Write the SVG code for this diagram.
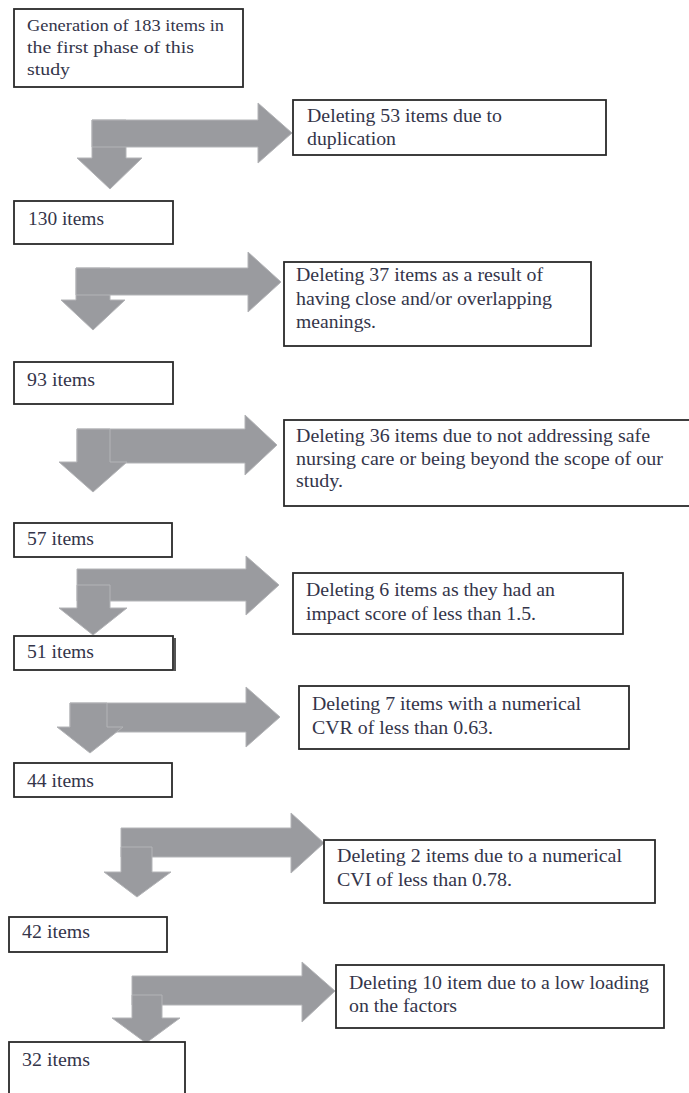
<svg xmlns="http://www.w3.org/2000/svg" width="689" height="1093" viewBox="0 0 689 1093">
<style>
.box{fill:#fff;stroke:#2a2a2a;stroke-width:1.8}
.arr{fill:#9a9b9f;stroke:#b3b4b7;stroke-width:1}
text{font-family:"Liberation Serif","Times New Roman",serif;font-size:18px;fill:#34354a}
.s{font-size:16.5px}
</style>
<rect width="689" height="1093" fill="#fff"/>
<g id="connectors">
<g id="a1"><polygon class="arr" points="92,120 126,120 126,158 142,158 110,189 77,158 92,158"/><polygon class="arr" points="92,120 258,120 258,103 292,133 258,163 258,147 92,147"/></g>
<g id="a2"><polygon class="arr" points="76,268 110,268 110,300 125,300 93,330 61,300 76,300"/><polygon class="arr" points="76,268 248,268 248,252 281,282 248,312 248,295 76,295"/></g>
<g id="a3"><polygon class="arr" points="77,429 245,429 245,415 277,445 245,475 245,463 77,463"/><polygon class="arr" points="77,429 110,429 110,462 127,462 93,492 59,462 77,462"/></g>
<g id="a4"><polygon class="arr" points="77,569 246,569 246,556 279,585 246,615 246,601 77,601"/><polygon class="arr" points="77,585 110,585 110,608 127,608 93,635 59,608 77,608"/></g>
<g id="a5"><polygon class="arr" points="70,703 246,703 246,687 280,717 246,747 246,732 70,732"/><polygon class="arr" points="70,703 107,703 107,727 123,727 90,753 57,727 70,727"/></g>
<g id="a6"><polygon class="arr" points="121,828 291,828 291,813 324,843 291,873 291,857 121,857"/><polygon class="arr" points="121,847 152,847 152,872 171,872 137,897 104,872 121,872"/></g>
<g id="a7"><polygon class="arr" points="132,976 302,976 302,962 335,991 302,1022 302,1005 132,1005"/><polygon class="arr" points="132,995 162,995 162,1018 180,1018 146,1043 112,1018 132,1018"/></g>
</g>
<g id="n183"><rect class="box" x="14" y="9" width="229" height="78"/><text class="s" x="27" y="31" textLength="197" lengthAdjust="spacingAndGlyphs">Generation of 183 items in</text><text class="s" x="27" y="53" textLength="167" lengthAdjust="spacingAndGlyphs">the first phase of this</text><text class="s" x="27" y="75" textLength="43" lengthAdjust="spacingAndGlyphs">study</text></g>
<g id="d53"><rect class="box" x="293" y="100" width="313" height="55"/><text x="307" y="122" textLength="195" lengthAdjust="spacingAndGlyphs">Deleting 53 items due to</text><text x="307" y="145" textLength="89" lengthAdjust="spacingAndGlyphs">duplication</text></g>
<g id="n130"><rect class="box" x="14" y="201" width="159" height="43"/><text x="28" y="225" textLength="76" lengthAdjust="spacingAndGlyphs">130 items</text></g>
<g id="d37"><rect class="box" x="284" y="262" width="307" height="84"/><text x="296" y="281" textLength="247" lengthAdjust="spacingAndGlyphs">Deleting 37 items as a result of</text><text x="296" y="305" textLength="256" lengthAdjust="spacingAndGlyphs">having close and/or overlapping</text><text x="296" y="328" textLength="80" lengthAdjust="spacingAndGlyphs">meanings.</text></g>
<g id="n93"><rect class="box" x="14" y="362" width="159" height="42"/><text x="27" y="386" textLength="68" lengthAdjust="spacingAndGlyphs">93 items</text></g>
<g id="d36"><rect class="box" x="284" y="420" width="420" height="86"/><text x="296" y="442" textLength="354" lengthAdjust="spacingAndGlyphs">Deleting 36 items due to not addressing safe</text><text x="296" y="465" textLength="367" lengthAdjust="spacingAndGlyphs">nursing care or being beyond the scope of our</text><text x="296" y="487" textLength="47" lengthAdjust="spacingAndGlyphs">study.</text></g>
<g id="n57"><rect class="box" x="14" y="523" width="158" height="34"/><text x="27" y="545" textLength="67" lengthAdjust="spacingAndGlyphs">57 items</text></g>
<g id="d6"><rect class="box" x="293" y="573" width="330" height="61"/><text x="306" y="596" textLength="249" lengthAdjust="spacingAndGlyphs">Deleting 6 items as they had an</text><text x="306" y="620" textLength="230" lengthAdjust="spacingAndGlyphs">impact score of less than 1.5.</text></g>
<g id="n51"><rect class="box" x="14" y="636" width="159" height="34"/><line x1="175" y1="638" x2="175" y2="671" stroke="#555" stroke-width="2"/><text x="27" y="658" textLength="67" lengthAdjust="spacingAndGlyphs">51 items</text></g>
<g id="d7"><rect class="box" x="299" y="686" width="330" height="63"/><text x="312" y="710" textLength="269" lengthAdjust="spacingAndGlyphs">Deleting 7 items with a numerical</text><text x="312" y="734" textLength="181" lengthAdjust="spacingAndGlyphs">CVR of less than 0.63.</text></g>
<g id="n44"><rect class="box" x="14" y="763" width="158" height="34"/><text x="27" y="787" textLength="67" lengthAdjust="spacingAndGlyphs">44 items</text></g>
<g id="d2"><rect class="box" x="324" y="840" width="331" height="63"/><text x="337" y="862" textLength="285" lengthAdjust="spacingAndGlyphs">Deleting 2 items due to a numerical</text><text x="337" y="886" textLength="175" lengthAdjust="spacingAndGlyphs">CVI of less than 0.78.</text></g>
<g id="n42"><rect class="box" x="9" y="917" width="158" height="35"/><text x="22" y="938" textLength="68" lengthAdjust="spacingAndGlyphs">42 items</text></g>
<g id="d10"><rect class="box" x="336" y="965" width="328" height="63"/><text x="349" y="989" textLength="300" lengthAdjust="spacingAndGlyphs">Deleting 10 item due to a low loading</text><text x="349" y="1012" textLength="108" lengthAdjust="spacingAndGlyphs">on the factors</text></g>
<g id="n32"><rect class="box" x="9" y="1042" width="176" height="60"/><text x="22" y="1066" textLength="68" lengthAdjust="spacingAndGlyphs">32 items</text></g>
</svg>
